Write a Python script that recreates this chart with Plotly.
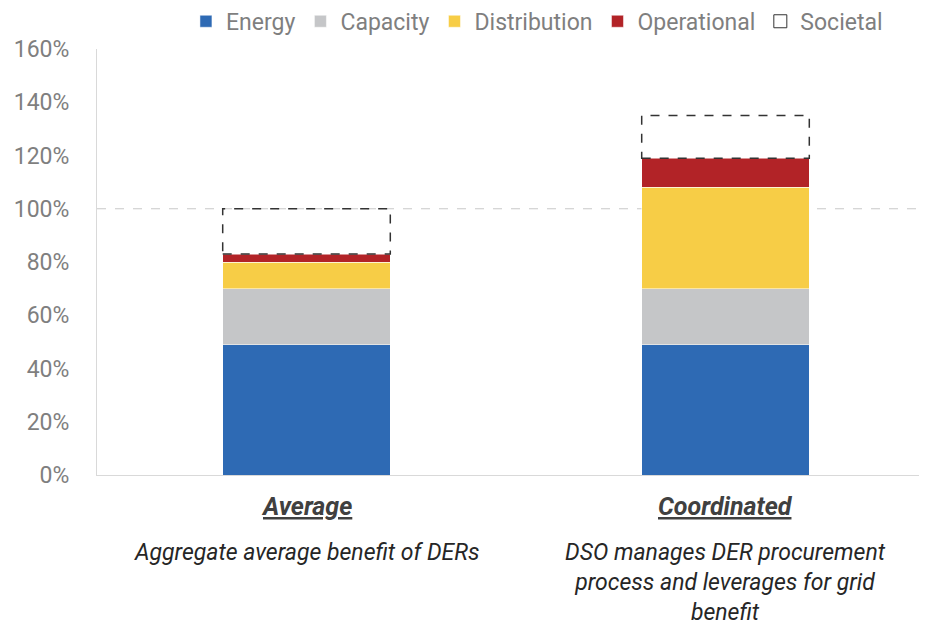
import plotly.graph_objects as go

categories = ["Average", "Coordinated"]
subtitles = ["Aggregate average benefit of DERs",
             "DSO manages DER procurement<br>process and leverages for grid<br>benefit"]
energy = [49, 49]
capacity = [21, 21]
distribution = [10, 38]
operational = [3, 11]
societal = [17, 16]

series = [("Energy", energy, "#2E6AB4"),
          ("Capacity", capacity, "#C5C6C8"),
          ("Distribution", distribution, "#F7CD46"),
          ("Operational", operational, "#B22327")]

FONT = "Roboto, sans-serif"
BAR_W = 0.4
xs = list(range(len(categories)))

fig = go.Figure()
for name, vals, col in series:
    fig.add_trace(go.Bar(x=xs, y=[v / 100 for v in vals], name=name, width=BAR_W,
                         marker=dict(color=col, line=dict(color="white", width=0.5))))

# societal as transparent bar + dashed outline
fig.add_trace(go.Bar(x=xs, y=[v / 100 for v in societal], name="Societal", width=BAR_W,
                     marker=dict(color="rgba(255,255,255,0)", line=dict(width=0)),
                     showlegend=False))
fig.add_trace(go.Scatter(x=[None], y=[None], mode="markers", name="Societal",
                         marker=dict(symbol="square-open", size=13, color="#333",
                                     line=dict(width=1))))

for i in xs:
    base = (energy[i] + capacity[i] + distribution[i] + operational[i]) / 100
    top = base + societal[i] / 100
    fig.add_shape(type="rect", xref="x", yref="y", x0=i - BAR_W / 2, x1=i + BAR_W / 2,
                  y0=base, y1=top, line=dict(color="#333", width=1.5, dash="dash"))

# 100% dashed reference line
fig.add_shape(type="line", xref="paper", yref="y", x0=0, x1=1, y0=1.0, y1=1.0,
              line=dict(color="#C8C8C8", width=1, dash="dash"), layer="below")

for i, (c, s) in enumerate(zip(categories, subtitles)):
    fig.add_annotation(x=i, y=-0.035, xref="x", yref="paper", yanchor="top",
                       text=f"<b><i><u>{c}</u></i></b>", showarrow=False,
                       font=dict(family=FONT, size=25, color="#404040"))
    fig.add_annotation(x=i, y=-0.145, xref="x", yref="paper", yanchor="top",
                       text=f"<i>{s}</i>", showarrow=False,
                       font=dict(family=FONT, size=23, color="#262626"))

fig.update_layout(
    barmode="stack",
    width=927, height=627,
    margin=dict(l=89, r=0, t=41, b=160, autoexpand=False),
    plot_bgcolor="white", paper_bgcolor="white",
    font=dict(family=FONT, color="#7F7F7F"),
    legend=dict(orientation="h", x=0.525, xanchor="center", y=1.065, yanchor="middle",
                font=dict(family=FONT, size=23, color="#7F7F7F"),
                traceorder="normal", itemwidth=30),
    showlegend=True,
)
fig.update_xaxes(range=[-0.5, 1.5], showticklabels=False, showgrid=False,
                 showline=True, linecolor="#D9D9D9", linewidth=1, zeroline=False,
                 tickvals=xs, automargin=False)
fig.update_yaxes(range=[0, 1.6], dtick=0.2, tickformat=".0%", showgrid=False,
                 showline=True, linecolor="#D9D9D9", linewidth=1, zeroline=False,
                 ticks="", ticklen=0, ticklabelstandoff=22, automargin=False,
                 tickfont=dict(family=FONT, size=23, color="#7F7F7F"))

fig.write_html("out.html")
